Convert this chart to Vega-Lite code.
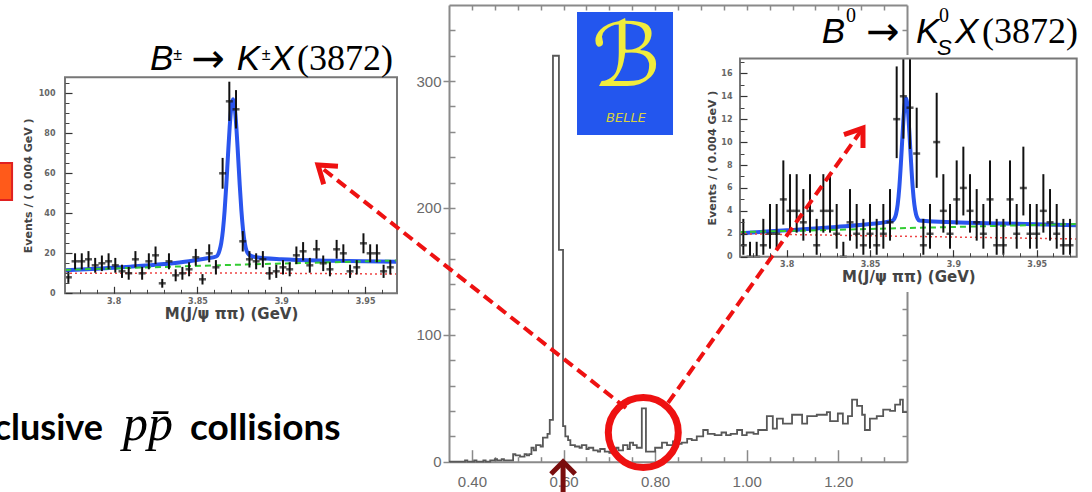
{
  "$schema": "https://vega.github.io/schema/vega-lite/v6.json",
  "width": 1092,
  "height": 492,
  "autosize": "none",
  "padding": 0,
  "background": "white",
  "config": {"view": {"stroke": null}, "axis": {"grid": false}},
  "data": {"values": [{}]},
  "datasets": {
    "hist": [{"m":0.35,"n":0},{"m":0.385,"n":1},{"m":0.39,"n":0},{"m":0.405,"n":1},{"m":0.41,"n":0},{"m":0.425,"n":1},{"m":0.43,"n":0},{"m":0.44,"n":1},{"m":0.45,"n":2},{"m":0.455,"n":1},{"m":0.465,"n":2},{"m":0.47,"n":1},{"m":0.485,"n":1},{"m":0.49,"n":6},{"m":0.495,"n":5},{"m":0.505,"n":4},{"m":0.515,"n":6},{"m":0.52,"n":5},{"m":0.525,"n":6},{"m":0.53,"n":11},{"m":0.535,"n":9},{"m":0.54,"n":13},{"m":0.55,"n":12},{"m":0.555,"n":19},{"m":0.565,"n":22},{"m":0.57,"n":33},{"m":0.577,"n":320},{"m":0.59,"n":167},{"m":0.599,"n":28},{"m":0.604,"n":20},{"m":0.61,"n":17},{"m":0.615,"n":13},{"m":0.625,"n":12},{"m":0.635,"n":11},{"m":0.64,"n":13},{"m":0.65,"n":10},{"m":0.655,"n":11},{"m":0.665,"n":9},{"m":0.675,"n":8},{"m":0.68,"n":10},{"m":0.69,"n":8},{"m":0.7,"n":7},{"m":0.705,"n":9},{"m":0.715,"n":11},{"m":0.72,"n":9},{"m":0.73,"n":13},{"m":0.74,"n":10},{"m":0.745,"n":15},{"m":0.752,"n":13},{"m":0.76,"n":11},{"m":0.771,"n":42},{"m":0.78,"n":8},{"m":0.8,"n":11},{"m":0.815,"n":15},{"m":0.826,"n":13},{"m":0.839,"n":16},{"m":0.848,"n":14},{"m":0.858,"n":15},{"m":0.87,"n":18},{"m":0.88,"n":17},{"m":0.891,"n":20},{"m":0.905,"n":25},{"m":0.915,"n":22},{"m":0.93,"n":21},{"m":0.945,"n":23},{"m":0.955,"n":21},{"m":0.965,"n":22},{"m":0.979,"n":25},{"m":0.99,"n":21},{"m":1.0,"n":23},{"m":1.015,"n":22},{"m":1.025,"n":25},{"m":1.044,"n":36},{"m":1.057,"n":26},{"m":1.066,"n":34},{"m":1.079,"n":30},{"m":1.099,"n":37},{"m":1.121,"n":30},{"m":1.132,"n":36},{"m":1.153,"n":37},{"m":1.175,"n":39},{"m":1.182,"n":32},{"m":1.199,"n":38},{"m":1.21,"n":30},{"m":1.221,"n":36},{"m":1.23,"n":49},{"m":1.241,"n":44},{"m":1.252,"n":37},{"m":1.258,"n":25},{"m":1.269,"n":34},{"m":1.284,"n":36},{"m":1.298,"n":41},{"m":1.313,"n":40},{"m":1.324,"n":45},{"m":1.335,"n":49},{"m":1.341,"n":39},{"m":1.35,"n":39}],
    "arrowL": [{"k":0,"x":0.7365,"y":42.3},{"k":1,"x":0.064,"y":233.9}],
    "headL": [{"k":0,"x":0.0764,"y":218.7},{"k":1,"x":0.064,"y":233.9},{"k":2,"x":0.1076,"y":232.9}],
    "arrowR": [{"k":0,"x":0.8282,"y":46.3},{"k":1,"x":1.2539,"y":263.0}],
    "headR": [{"k":0,"x":1.2124,"y":257.8},{"k":1,"x":1.2539,"y":263.0},{"k":2,"x":1.2539,"y":247.3}],
    "pin": [{"k":0,"x":0.5727,"y":-9.7},{"k":1,"x":0.5991,"y":0},{"k":2,"x":0.6255,"y":-9.7}],
    "kp": [{"mass":3.773,"n":8,"lo":5.2,"hi":10.8},{"mass":3.777,"n":16,"lo":12,"hi":20},{"mass":3.781,"n":16,"lo":12,"hi":20},{"mass":3.785,"n":17,"lo":12.9,"hi":21.1},{"mass":3.789,"n":14,"lo":10.3,"hi":17.7},{"mass":3.793,"n":15,"lo":11.1,"hi":18.9},{"mass":3.797,"n":16,"lo":12,"hi":20},{"mass":3.801,"n":14,"lo":10.3,"hi":17.7},{"mass":3.805,"n":11,"lo":7.7,"hi":14.3},{"mass":3.809,"n":10,"lo":6.8,"hi":13.2},{"mass":3.813,"n":17,"lo":12.9,"hi":21.1},{"mass":3.817,"n":10,"lo":6.8,"hi":13.2},{"mass":3.821,"n":16,"lo":12,"hi":20},{"mass":3.825,"n":19,"lo":14.6,"hi":23.4},{"mass":3.829,"n":5,"lo":2.8,"hi":7.2},{"mass":3.833,"n":16,"lo":12,"hi":20},{"mass":3.837,"n":9,"lo":6,"hi":12},{"mass":3.841,"n":10,"lo":6.8,"hi":13.2},{"mass":3.845,"n":12,"lo":8.5,"hi":15.5},{"mass":3.849,"n":18,"lo":13.8,"hi":22.2},{"mass":3.853,"n":7,"lo":4.4,"hi":9.6},{"mass":3.857,"n":20,"lo":15.5,"hi":24.5},{"mass":3.861,"n":13,"lo":9.4,"hi":16.6},{"mass":3.865,"n":60,"lo":52.3,"hi":67.7},{"mass":3.869,"n":96,"lo":86.2,"hi":105.8},{"mass":3.873,"n":92,"lo":82.4,"hi":101.6},{"mass":3.877,"n":26,"lo":20.9,"hi":31.1},{"mass":3.881,"n":17,"lo":12.9,"hi":21.1},{"mass":3.885,"n":16,"lo":12,"hi":20},{"mass":3.889,"n":17,"lo":12.9,"hi":21.1},{"mass":3.893,"n":10,"lo":6.8,"hi":13.2},{"mass":3.897,"n":11,"lo":7.7,"hi":14.3},{"mass":3.901,"n":13,"lo":9.4,"hi":16.6},{"mass":3.905,"n":12,"lo":8.5,"hi":15.5},{"mass":3.909,"n":19,"lo":14.6,"hi":23.4},{"mass":3.913,"n":21,"lo":16.4,"hi":25.6},{"mass":3.917,"n":14,"lo":10.3,"hi":17.7},{"mass":3.921,"n":22,"lo":17.3,"hi":26.7},{"mass":3.925,"n":15,"lo":11.1,"hi":18.9},{"mass":3.929,"n":12,"lo":8.5,"hi":15.5},{"mass":3.933,"n":22,"lo":17.3,"hi":26.7},{"mass":3.937,"n":20,"lo":15.5,"hi":24.5},{"mass":3.941,"n":11,"lo":7.7,"hi":14.3},{"mass":3.945,"n":13,"lo":9.4,"hi":16.6},{"mass":3.949,"n":25,"lo":20,"hi":30},{"mass":3.953,"n":20,"lo":15.5,"hi":24.5},{"mass":3.957,"n":20,"lo":15.5,"hi":24.5},{"mass":3.961,"n":11,"lo":7.7,"hi":14.3},{"mass":3.965,"n":13,"lo":9.4,"hi":16.6}],
    "kpFit": [{"mass":3.771,"n":11.5},{"mass":3.79,"n":12.3},{"mass":3.81,"n":13.3},{"mass":3.83,"n":14.6},{"mass":3.845,"n":16},{"mass":3.855,"n":17.4},{"mass":3.8612,"n":18.4},{"mass":3.8632,"n":21.5},{"mass":3.8642,"n":25.2},{"mass":3.8652,"n":31.6},{"mass":3.8662,"n":41.3},{"mass":3.8672,"n":54.2},{"mass":3.8682,"n":69},{"mass":3.8692,"n":83},{"mass":3.8702,"n":93.2},{"mass":3.8712,"n":97},{"mass":3.8722,"n":93.2},{"mass":3.8732,"n":83},{"mass":3.8742,"n":69},{"mass":3.8752,"n":54.2},{"mass":3.8762,"n":41.3},{"mass":3.8772,"n":31.6},{"mass":3.8782,"n":25.2},{"mass":3.8792,"n":21.5},{"mass":3.8812,"n":19},{"mass":3.885,"n":18},{"mass":3.9,"n":17},{"mass":3.93,"n":16.3},{"mass":3.969,"n":15.8}],
    "kpBkg": [{"mass":3.771,"n":11.7},{"mass":3.87,"n":14.2},{"mass":3.969,"n":16.4}],
    "kpComb": [{"mass":3.771,"n":10.0},{"mass":3.87,"n":10.2},{"mass":3.969,"n":9.6}],
    "k0": [{"mass":3.774,"n":1,"lo":0.17,"hi":3.3},{"mass":3.778,"n":0,"lo":0,"hi":1.3},{"mass":3.782,"n":0,"lo":0,"hi":1.3},{"mass":3.786,"n":1,"lo":0.17,"hi":3.3},{"mass":3.79,"n":2,"lo":0.7,"hi":4.6},{"mass":3.794,"n":2,"lo":0.7,"hi":4.6},{"mass":3.798,"n":5,"lo":2.8,"hi":8.4},{"mass":3.802,"n":4,"lo":2.1,"hi":7.2},{"mass":3.806,"n":4,"lo":2.1,"hi":7.2},{"mass":3.81,"n":3,"lo":1.4,"hi":5.9},{"mass":3.814,"n":4,"lo":2.1,"hi":7.2},{"mass":3.818,"n":1,"lo":0.17,"hi":3.3},{"mass":3.822,"n":4,"lo":2.1,"hi":7.2},{"mass":3.826,"n":4,"lo":2.1,"hi":7.2},{"mass":3.83,"n":2,"lo":0.7,"hi":4.6},{"mass":3.834,"n":0,"lo":0,"hi":1.3},{"mass":3.838,"n":3,"lo":1.4,"hi":5.9},{"mass":3.842,"n":2,"lo":0.7,"hi":4.6},{"mass":3.846,"n":1,"lo":0.17,"hi":3.3},{"mass":3.85,"n":2,"lo":0.7,"hi":4.6},{"mass":3.854,"n":1,"lo":0.17,"hi":3.3},{"mass":3.858,"n":2,"lo":0.7,"hi":4.6},{"mass":3.862,"n":3,"lo":1.4,"hi":5.9},{"mass":3.866,"n":12,"lo":8.6,"hi":16.6},{"mass":3.87,"n":14,"lo":10.3,"hi":17.3},{"mass":3.874,"n":13,"lo":9.4,"hi":17.3},{"mass":3.878,"n":9,"lo":6.0,"hi":13.0},{"mass":3.882,"n":1,"lo":0.17,"hi":3.3},{"mass":3.886,"n":2,"lo":0.7,"hi":4.6},{"mass":3.89,"n":10,"lo":6.9,"hi":14.3},{"mass":3.894,"n":4,"lo":2.1,"hi":7.2},{"mass":3.898,"n":2,"lo":0.7,"hi":4.6},{"mass":3.902,"n":5,"lo":2.8,"hi":8.4},{"mass":3.906,"n":6,"lo":3.6,"hi":9.6},{"mass":3.91,"n":4,"lo":2.1,"hi":7.2},{"mass":3.914,"n":3,"lo":1.4,"hi":5.9},{"mass":3.918,"n":2,"lo":0.7,"hi":4.6},{"mass":3.922,"n":5,"lo":2.8,"hi":8.4},{"mass":3.926,"n":1,"lo":0.17,"hi":3.3},{"mass":3.93,"n":1,"lo":0.17,"hi":3.3},{"mass":3.934,"n":5,"lo":2.8,"hi":8.4},{"mass":3.938,"n":2,"lo":0.7,"hi":4.6},{"mass":3.942,"n":6,"lo":3.6,"hi":9.6},{"mass":3.946,"n":2,"lo":0.7,"hi":4.6},{"mass":3.95,"n":2,"lo":0.7,"hi":4.6},{"mass":3.954,"n":4,"lo":2.1,"hi":7.2},{"mass":3.958,"n":3,"lo":1.4,"hi":5.9},{"mass":3.962,"n":2,"lo":0.7,"hi":4.6},{"mass":3.966,"n":1,"lo":0.17,"hi":3.3},{"mass":3.97,"n":1,"lo":0.17,"hi":3.3}],
    "k0Fit": [{"mass":3.772,"n":2.05},{"mass":3.8,"n":2.3},{"mass":3.83,"n":2.6},{"mass":3.85,"n":2.85},{"mass":3.8636,"n":3.15},{"mass":3.8646,"n":3.31},{"mass":3.8656,"n":3.7},{"mass":3.8666,"n":4.55},{"mass":3.8676,"n":6.07},{"mass":3.8686,"n":8.31},{"mass":3.8696,"n":10.87},{"mass":3.8706,"n":12.98},{"mass":3.8716,"n":13.8},{"mass":3.8726,"n":12.98},{"mass":3.8736,"n":10.87},{"mass":3.8746,"n":8.31},{"mass":3.8756,"n":6.07},{"mass":3.8766,"n":4.55},{"mass":3.8776,"n":3.7},{"mass":3.8786,"n":3.31},{"mass":3.8796,"n":3.15},{"mass":3.885,"n":3.1},{"mass":3.9,"n":3.0},{"mass":3.93,"n":2.9},{"mass":3.974,"n":2.75}],
    "k0Bkg": [{"mass":3.772,"n":2.15},{"mass":3.974,"n":2.85}],
    "k0Comb": [{"mass":3.772,"n":2.0},{"mass":3.974,"n":1.55}]
  },
  "layer": [
    {
      "layer": [
        {
          "data": {"name": "kpFit"},
          "mark": {"type": "line", "interpolate": "monotone", "color": "#2a55ee", "strokeWidth": 4},
          "encoding": {
            "x": {"field": "mass", "type": "quantitative", "scale": {"domain": [3.771, 3.969], "range": [65, 397], "nice": false, "zero": false}, "axis": null},
            "y": {"field": "n", "type": "quantitative", "scale": {"domain": [0, 108], "range": [293.3, 77.3], "nice": false, "zero": false}, "axis": null}
          }
        },
        {
          "data": {"name": "kpComb"},
          "mark": {"type": "line", "color": "#ee4444", "strokeWidth": 1.5, "strokeDash": [2, 3]},
          "encoding": {
            "x": {"field": "mass", "type": "quantitative", "scale": {"domain": [3.771, 3.969], "range": [65, 397], "nice": false, "zero": false},
                  "axis": {"orient": "bottom", "offset": -198.7, "values": [3.78,3.79,3.81,3.82,3.83,3.84,3.86,3.87,3.88,3.89,3.91,3.92,3.93,3.94,3.96], "tickSize": -4, "labels": false, "domain": false, "tickColor": "#444", "title": null, "zindex": 1}},
            "y": {"field": "n", "type": "quantitative", "scale": {"domain": [0, 108], "range": [293.3, 77.3], "nice": false, "zero": false},
                  "axis": {"orient": "left", "offset": -65, "values": [5,10,15,25,30,35,45,50,55,65,70,75,85,90,95,105], "tickSize": -4, "labels": false, "domain": false, "tickColor": "#444", "title": null, "zindex": 1}}
          }
        },
        {
          "data": {"name": "kpBkg"},
          "mark": {"type": "line", "color": "#33cc33", "strokeWidth": 2, "strokeDash": [6, 4]},
          "encoding": {
            "x": {"field": "mass", "type": "quantitative", "scale": {"domain": [3.771, 3.969], "range": [65, 397], "nice": false, "zero": false}, "axis": null},
            "y": {"field": "n", "type": "quantitative", "scale": {"domain": [0, 108], "range": [293.3, 77.3], "nice": false, "zero": false}, "axis": null}
          }
        },
        {
          "data": {"name": "kp"},
          "mark": {"type": "rule", "color": "#111", "strokeWidth": 2},
          "encoding": {
            "x": {"field": "mass", "type": "quantitative", "scale": {"domain": [3.771, 3.969], "range": [65, 397], "nice": false, "zero": false},
                  "axis": {"orient": "bottom", "offset": -198.7, "values": [3.8, 3.85, 3.9, 3.95], "format": ".2~f", "tickSize": -7, "labelPadding": 11, "labelFont": "DejaVu Sans", "labelFontSize": 8, "labelFontWeight": "bold", "labelColor": "#666", "labelFlush": false, "labelOverlap": false, "tickColor": "#333", "tickWidth": 1.2, "domain": false, "title": "M(J/ψ ππ) (GeV)", "titleFont": "DejaVu Sans", "titleFontSize": 15, "titleFontWeight": "bold", "titleColor": "#444", "titlePadding": 1, "zindex": 1}},
            "y": {"field": "lo", "type": "quantitative", "scale": {"domain": [0, 108], "range": [293.3, 77.3], "nice": false, "zero": false},
                  "axis": {"orient": "left", "offset": -65, "values": [0, 20, 40, 60, 80, 100], "tickSize": -7, "labelPadding": 17, "labelFont": "DejaVu Sans", "labelFontSize": 8, "labelFontWeight": "bold", "labelColor": "#666", "labelFlush": false, "labelOverlap": false, "tickColor": "#333", "tickWidth": 1.2, "domain": false, "title": "Events / ( 0.004 GeV )", "titleFont": "DejaVu Sans", "titleFontSize": 11, "titleFontWeight": "bold", "titleColor": "#444", "titlePadding": 5, "zindex": 1}},
            "y2": {"field": "hi"}
          }
        },
        {
          "data": {"name": "kp"},
          "mark": {"type": "tick", "orient": "horizontal", "size": 7, "thickness": 2.5, "color": "#111"},
          "encoding": {
            "x": {"field": "mass", "type": "quantitative", "scale": {"domain": [3.771, 3.969], "range": [65, 397], "nice": false, "zero": false}, "axis": null},
            "y": {"field": "n", "type": "quantitative", "scale": {"domain": [0, 108], "range": [293.3, 77.3], "nice": false, "zero": false}, "axis": null}
          }
        },
        {
          "mark": {"type": "rect", "filled": false, "color": "#777", "strokeWidth": 2},
          "encoding": {
            "x": {"datum": 3.771, "type": "quantitative", "scale": {"domain": [3.771, 3.969], "range": [65, 397], "nice": false, "zero": false}, "axis": null},
            "x2": {"datum": 3.969},
            "y": {"datum": 0, "type": "quantitative", "scale": {"domain": [0, 108], "range": [293.3, 77.3], "nice": false, "zero": false}, "axis": null},
            "y2": {"datum": 108}
          }
        },
        {
          "mark": {"type": "text", "text": "B", "font": "Liberation Sans", "fontStyle": "italic", "fontSize": 35, "align": "left", "baseline": "alphabetic", "color": "#000"},
          "encoding": {
            "x": {"datum": 3.8217, "type": "quantitative", "scale": {"domain": [3.771, 3.969], "range": [65, 397], "nice": false, "zero": false}, "axis": null},
            "y": {"datum": 111.65, "type": "quantitative", "scale": {"domain": [0, 108], "range": [293.3, 77.3], "nice": false, "zero": false}, "axis": null}
          }
        },
        {
          "mark": {"type": "text", "text": "±", "font": "Liberation Sans", "fontSize": 16, "align": "left", "baseline": "alphabetic", "color": "#000"},
          "encoding": {
            "x": {"datum": 3.8356, "type": "quantitative", "scale": {"domain": [3.771, 3.969], "range": [65, 397], "nice": false, "zero": false}, "axis": null},
            "y": {"datum": 116.65, "type": "quantitative", "scale": {"domain": [0, 108], "range": [293.3, 77.3], "nice": false, "zero": false}, "axis": null}
          }
        },
        {
          "mark": {"type": "text", "text": "→", "font": "DejaVu Sans", "fontSize": 40, "align": "left", "baseline": "alphabetic", "color": "#000"},
          "encoding": {
            "x": {"datum": 3.8465, "type": "quantitative", "scale": {"domain": [3.771, 3.969], "range": [65, 397], "nice": false, "zero": false}, "axis": null},
            "y": {"datum": 110.5, "type": "quantitative", "scale": {"domain": [0, 108], "range": [293.3, 77.3], "nice": false, "zero": false}, "axis": null}
          }
        },
        {
          "mark": {"type": "text", "text": "K", "font": "Liberation Sans", "fontStyle": "italic", "fontSize": 35, "align": "left", "baseline": "alphabetic", "color": "#000"},
          "encoding": {
            "x": {"datum": 3.8735, "type": "quantitative", "scale": {"domain": [3.771, 3.969], "range": [65, 397], "nice": false, "zero": false}, "axis": null},
            "y": {"datum": 111.65, "type": "quantitative", "scale": {"domain": [0, 108], "range": [293.3, 77.3], "nice": false, "zero": false}, "axis": null}
          }
        },
        {
          "mark": {"type": "text", "text": "±", "font": "Liberation Sans", "fontSize": 16, "align": "left", "baseline": "alphabetic", "color": "#000"},
          "encoding": {
            "x": {"datum": 3.8884, "type": "quantitative", "scale": {"domain": [3.771, 3.969], "range": [65, 397], "nice": false, "zero": false}, "axis": null},
            "y": {"datum": 116.65, "type": "quantitative", "scale": {"domain": [0, 108], "range": [293.3, 77.3], "nice": false, "zero": false}, "axis": null}
          }
        },
        {
          "mark": {"type": "text", "text": "X", "font": "Liberation Sans", "fontStyle": "italic", "fontSize": 35, "align": "left", "baseline": "alphabetic", "color": "#000"},
          "encoding": {
            "x": {"datum": 3.8932, "type": "quantitative", "scale": {"domain": [3.771, 3.969], "range": [65, 397], "nice": false, "zero": false}, "axis": null},
            "y": {"datum": 111.65, "type": "quantitative", "scale": {"domain": [0, 108], "range": [293.3, 77.3], "nice": false, "zero": false}, "axis": null}
          }
        },
        {
          "mark": {"type": "text", "text": "(3872)", "font": "Liberation Serif", "fontSize": 36, "align": "left", "baseline": "alphabetic", "color": "#000"},
          "encoding": {
            "x": {"datum": 3.9093, "type": "quantitative", "scale": {"domain": [3.771, 3.969], "range": [65, 397], "nice": false, "zero": false}, "axis": null},
            "y": {"datum": 111.65, "type": "quantitative", "scale": {"domain": [0, 108], "range": [293.3, 77.3], "nice": false, "zero": false}, "axis": null}
          }
        }
      ],
      "resolve": {"axis": {"x": "independent", "y": "independent"}}
    },
    {
      "layer": [
        {
          "mark": {"type": "rect", "color": "white"},
          "encoding": {
            "x": {"datum": 3.7462, "type": "quantitative", "scale": {"domain": [3.772, 3.974], "range": [740, 1076.7], "nice": false, "zero": false}, "axis": null},
            "x2": {"datum": 3.9772},
            "y": {"datum": -3.08, "type": "quantitative", "scale": {"domain": [0, 17.3], "range": [256.7, 58.4], "nice": false, "zero": false}, "axis": null},
            "y2": {"datum": 17.6}
          }
        },
        {
          "data": {"name": "k0Fit"},
          "mark": {"type": "line", "interpolate": "monotone", "color": "#2a55ee", "strokeWidth": 4},
          "encoding": {
            "x": {"field": "mass", "type": "quantitative", "scale": {"domain": [3.772, 3.974], "range": [740, 1076.7], "nice": false, "zero": false}, "axis": null},
            "y": {"field": "n", "type": "quantitative", "scale": {"domain": [0, 17.3], "range": [256.7, 58.4], "nice": false, "zero": false}, "axis": null}
          }
        },
        {
          "data": {"name": "k0Comb"},
          "mark": {"type": "line", "color": "#ee4444", "strokeWidth": 1.5, "strokeDash": [2, 3]},
          "encoding": {
            "x": {"field": "mass", "type": "quantitative", "scale": {"domain": [3.772, 3.974], "range": [740, 1076.7], "nice": false, "zero": false},
                  "axis": {"orient": "bottom", "offset": -235.3, "values": [3.78,3.79,3.81,3.82,3.83,3.84,3.86,3.87,3.88,3.89,3.91,3.92,3.93,3.94,3.96,3.97], "tickSize": -4, "labels": false, "domain": false, "tickColor": "#444", "title": null, "zindex": 1}},
            "y": {"field": "n", "type": "quantitative", "scale": {"domain": [0, 17.3], "range": [256.7, 58.4], "nice": false, "zero": false},
                  "axis": {"orient": "left", "offset": -740, "values": [1,3,5,7,9,11,13,15,17], "tickSize": -4, "labels": false, "domain": false, "tickColor": "#444", "title": null, "zindex": 1}}
          }
        },
        {
          "data": {"name": "k0Bkg"},
          "mark": {"type": "line", "color": "#33cc33", "strokeWidth": 2, "strokeDash": [6, 4]},
          "encoding": {
            "x": {"field": "mass", "type": "quantitative", "scale": {"domain": [3.772, 3.974], "range": [740, 1076.7], "nice": false, "zero": false}, "axis": null},
            "y": {"field": "n", "type": "quantitative", "scale": {"domain": [0, 17.3], "range": [256.7, 58.4], "nice": false, "zero": false}, "axis": null}
          }
        },
        {
          "data": {"name": "k0"},
          "mark": {"type": "rule", "color": "#111", "strokeWidth": 2},
          "encoding": {
            "x": {"field": "mass", "type": "quantitative", "scale": {"domain": [3.772, 3.974], "range": [740, 1076.7], "nice": false, "zero": false},
                  "axis": {"orient": "bottom", "offset": -235.3, "values": [3.8, 3.85, 3.9, 3.95], "format": ".2~f", "tickSize": -7, "labelPadding": 11, "labelFont": "DejaVu Sans", "labelFontSize": 8, "labelFontWeight": "bold", "labelColor": "#666", "labelFlush": false, "labelOverlap": false, "tickColor": "#333", "tickWidth": 1.2, "domain": false, "title": "M(J/ψ ππ) (GeV)", "titleFont": "DejaVu Sans", "titleFontSize": 15, "titleFontWeight": "bold", "titleColor": "#444", "titlePadding": 1, "zindex": 1}},
            "y": {"field": "lo", "type": "quantitative", "scale": {"domain": [0, 17.3], "range": [256.7, 58.4], "nice": false, "zero": false},
                  "axis": {"orient": "left", "offset": -740, "values": [0, 2, 4, 6, 8, 10, 12, 14, 16], "tickSize": -7, "labelPadding": 15, "labelFont": "DejaVu Sans", "labelFontSize": 8, "labelFontWeight": "bold", "labelColor": "#666", "labelFlush": false, "labelOverlap": false, "tickColor": "#333", "tickWidth": 1.2, "domain": false, "title": "Events / ( 0.004 GeV )", "titleFont": "DejaVu Sans", "titleFontSize": 11, "titleFontWeight": "bold", "titleColor": "#444", "titlePadding": 3, "zindex": 1}},
            "y2": {"field": "hi"}
          }
        },
        {
          "data": {"name": "k0"},
          "mark": {"type": "tick", "orient": "horizontal", "size": 7, "thickness": 2.5, "color": "#111"},
          "encoding": {
            "x": {"field": "mass", "type": "quantitative", "scale": {"domain": [3.772, 3.974], "range": [740, 1076.7], "nice": false, "zero": false}, "axis": null},
            "y": {"field": "n", "type": "quantitative", "scale": {"domain": [0, 17.3], "range": [256.7, 58.4], "nice": false, "zero": false}, "axis": null}
          }
        },
        {
          "mark": {"type": "rect", "filled": false, "color": "#777", "strokeWidth": 2},
          "encoding": {
            "x": {"datum": 3.772, "type": "quantitative", "scale": {"domain": [3.772, 3.974], "range": [740, 1076.7], "nice": false, "zero": false}, "axis": null},
            "x2": {"datum": 3.974},
            "y": {"datum": 0, "type": "quantitative", "scale": {"domain": [0, 17.3], "range": [256.7, 58.4], "nice": false, "zero": false}, "axis": null},
            "y2": {"datum": 17.3}
          }
        },
        {
          "mark": {"type": "text", "text": "B", "font": "Liberation Sans", "fontStyle": "italic", "fontSize": 35, "align": "left", "baseline": "alphabetic", "color": "#000"},
          "encoding": {
            "x": {"datum": 3.821, "type": "quantitative", "scale": {"domain": [3.772, 3.974], "range": [740, 1076.7], "nice": false, "zero": false}, "axis": null},
            "y": {"datum": 18.62, "type": "quantitative", "scale": {"domain": [0, 17.3], "range": [256.7, 58.4], "nice": false, "zero": false}, "axis": null}
          }
        },
        {
          "mark": {"type": "text", "text": "0", "font": "Liberation Serif", "fontSize": 20, "align": "left", "baseline": "alphabetic", "color": "#000"},
          "encoding": {
            "x": {"datum": 3.8356, "type": "quantitative", "scale": {"domain": [3.772, 3.974], "range": [740, 1076.7], "nice": false, "zero": false}, "axis": null},
            "y": {"datum": 20.5, "type": "quantitative", "scale": {"domain": [0, 17.3], "range": [256.7, 58.4], "nice": false, "zero": false}, "axis": null}
          }
        },
        {
          "mark": {"type": "text", "text": "→", "font": "DejaVu Sans", "fontSize": 40, "align": "left", "baseline": "alphabetic", "color": "#000"},
          "encoding": {
            "x": {"datum": 3.8478, "type": "quantitative", "scale": {"domain": [3.772, 3.974], "range": [740, 1076.7], "nice": false, "zero": false}, "axis": null},
            "y": {"datum": 18.5, "type": "quantitative", "scale": {"domain": [0, 17.3], "range": [256.7, 58.4], "nice": false, "zero": false}, "axis": null}
          }
        },
        {
          "mark": {"type": "text", "text": "K", "font": "Liberation Sans", "fontStyle": "italic", "fontSize": 35, "align": "left", "baseline": "alphabetic", "color": "#000"},
          "encoding": {
            "x": {"datum": 3.8776, "type": "quantitative", "scale": {"domain": [3.772, 3.974], "range": [740, 1076.7], "nice": false, "zero": false}, "axis": null},
            "y": {"datum": 18.62, "type": "quantitative", "scale": {"domain": [0, 17.3], "range": [256.7, 58.4], "nice": false, "zero": false}, "axis": null}
          }
        },
        {
          "mark": {"type": "text", "text": "0", "font": "Liberation Serif", "fontSize": 20, "align": "left", "baseline": "alphabetic", "color": "#000"},
          "encoding": {
            "x": {"datum": 3.8914, "type": "quantitative", "scale": {"domain": [3.772, 3.974], "range": [740, 1076.7], "nice": false, "zero": false}, "axis": null},
            "y": {"datum": 20.5, "type": "quantitative", "scale": {"domain": [0, 17.3], "range": [256.7, 58.4], "nice": false, "zero": false}, "axis": null}
          }
        },
        {
          "mark": {"type": "text", "text": "S", "font": "Liberation Sans", "fontStyle": "italic", "fontSize": 22, "align": "left", "baseline": "alphabetic", "color": "#000"},
          "encoding": {
            "x": {"datum": 3.8902, "type": "quantitative", "scale": {"domain": [3.772, 3.974], "range": [740, 1076.7], "nice": false, "zero": false}, "axis": null},
            "y": {"datum": 17.6, "type": "quantitative", "scale": {"domain": [0, 17.3], "range": [256.7, 58.4], "nice": false, "zero": false}, "axis": null}
          }
        },
        {
          "mark": {"type": "text", "text": "X", "font": "Liberation Sans", "fontStyle": "italic", "fontSize": 35, "align": "left", "baseline": "alphabetic", "color": "#000"},
          "encoding": {
            "x": {"datum": 3.901, "type": "quantitative", "scale": {"domain": [3.772, 3.974], "range": [740, 1076.7], "nice": false, "zero": false}, "axis": null},
            "y": {"datum": 18.62, "type": "quantitative", "scale": {"domain": [0, 17.3], "range": [256.7, 58.4], "nice": false, "zero": false}, "axis": null}
          }
        },
        {
          "mark": {"type": "text", "text": "(3872)", "font": "Liberation Serif", "fontSize": 36, "align": "left", "baseline": "alphabetic", "color": "#000"},
          "encoding": {
            "x": {"datum": 3.9172, "type": "quantitative", "scale": {"domain": [3.772, 3.974], "range": [740, 1076.7], "nice": false, "zero": false}, "axis": null},
            "y": {"datum": 18.62, "type": "quantitative", "scale": {"domain": [0, 17.3], "range": [256.7, 58.4], "nice": false, "zero": false}, "axis": null}
          }
        }
      ],
      "resolve": {"axis": {"x": "independent", "y": "independent"}}
    },
    {
      "layer": [
        {
          "data": {"name": "hist"},
          "mark": {"type": "line", "interpolate": "step-after", "color": "#585858", "strokeWidth": 1.8},
          "encoding": {
            "x": {"field": "m", "type": "quantitative", "scale": {"domain": [0.35, 1.35], "range": [449, 907], "nice": false, "zero": false},
                  "axis": {"orient": "bottom", "offset": -30.3, "values": [0.4, 0.6, 0.8, 1.0, 1.2], "format": ".2f", "tickSize": -12, "labelPadding": 25, "labelFont": "Liberation Sans", "labelFontSize": 15, "labelColor": "#6a6a6a", "labelFlush": false, "labelOverlap": false, "domainColor": "#8a8a8a", "domainWidth": 2, "tickColor": "#8a8a8a", "tickWidth": 1.5, "title": null}},
            "y": {"field": "n", "type": "quantitative", "scale": {"domain": [0, 360], "range": [461.7, 5], "nice": false, "zero": false},
                  "axis": {"orient": "left", "offset": -449, "values": [0, 100, 200, 300], "tickSize": 6, "labelPadding": 2, "labelFont": "Liberation Sans", "labelFontSize": 15, "labelColor": "#6a6a6a", "labelFlush": false, "labelOverlap": false, "domainColor": "#8a8a8a", "domainWidth": 2, "tickColor": "#8a8a8a", "tickWidth": 1.5, "title": null}}
          }
        },
        {
          "data": {"name": "arrowL"},
          "mark": {"type": "line", "color": "#ee1111", "strokeWidth": 4, "strokeDash": [11, 6]},
          "encoding": {
            "x": {"field": "x", "type": "quantitative", "scale": {"domain": [0.35, 1.35], "range": [449, 907], "nice": false, "zero": false},
                  "axis": {"orient": "bottom", "offset": -30.3, "values": [0.45,0.5,0.55,0.65,0.7,0.75,0.85,0.9,0.95,1.05,1.1,1.15,1.25,1.3], "tickSize": -5, "labels": false, "domain": false, "tickColor": "#8a8a8a", "tickWidth": 1.5, "title": null}},
            "y": {"field": "y", "type": "quantitative", "scale": {"domain": [0, 360], "range": [461.7, 5], "nice": false, "zero": false},
                  "axis": {"orient": "left", "offset": -449, "values": [20,40,60,80,100,120,140,160,180,200,220,240,260,280,300,320,340], "tickSize": -6, "labels": false, "domain": false, "tickColor": "#8a8a8a", "tickWidth": 1.5, "title": null}},
            "order": {"field": "k"}
          }
        },
        {
          "data": {"name": "arrowR"},
          "mark": {"type": "line", "color": "#ee1111", "strokeWidth": 4, "strokeDash": [11, 6]},
          "encoding": {
            "x": {"field": "x", "type": "quantitative", "scale": {"domain": [0.35, 1.35], "range": [449, 907], "nice": false, "zero": false},
                  "axis": {"orient": "top", "offset": -5, "values": [0.4,0.45,0.5,0.55,0.6,0.65,0.7,0.75,0.8,0.85,0.9,0.95,1.0,1.05,1.1,1.15,1.2,1.25,1.3], "tickSize": -5, "labels": false, "domain": true, "domainColor": "#8a8a8a", "domainWidth": 2, "tickColor": "#8a8a8a", "tickWidth": 1.5, "title": null}},
            "y": {"field": "y", "type": "quantitative", "scale": {"domain": [0, 360], "range": [461.7, 5], "nice": false, "zero": false},
                  "axis": {"orient": "right", "offset": -185, "values": [20,40,60,80,100,120,140,160,180,200,220,240,260,280,300,320,340], "tickSize": -5, "labels": false, "domain": true, "domainColor": "#8a8a8a", "domainWidth": 2, "tickColor": "#8a8a8a", "tickWidth": 1.5, "title": null}},
            "order": {"field": "k"}
          }
        },
        {
          "data": {"name": "headL"},
          "mark": {"type": "line", "color": "#ee1111", "strokeWidth": 5, "strokeJoin": "miter"},
          "encoding": {
            "x": {"field": "x", "type": "quantitative", "scale": {"domain": [0.35, 1.35], "range": [449, 907], "nice": false, "zero": false}, "axis": null},
            "y": {"field": "y", "type": "quantitative", "scale": {"domain": [0, 360], "range": [461.7, 5], "nice": false, "zero": false}, "axis": null},
            "order": {"field": "k"}
          }
        },
        {
          "data": {"name": "headR"},
          "mark": {"type": "line", "color": "#ee1111", "strokeWidth": 5, "strokeJoin": "miter"},
          "encoding": {
            "x": {"field": "x", "type": "quantitative", "scale": {"domain": [0.35, 1.35], "range": [449, 907], "nice": false, "zero": false}, "axis": null},
            "y": {"field": "y", "type": "quantitative", "scale": {"domain": [0, 360], "range": [461.7, 5], "nice": false, "zero": false}, "axis": null},
            "order": {"field": "k"}
          }
        },
        {
          "mark": {"type": "point", "shape": "circle", "size": 4900, "filled": false, "stroke": "#ee1111", "strokeWidth": 7, "opacity": 1},
          "encoding": {
            "x": {"datum": 0.7742, "type": "quantitative", "scale": {"domain": [0.35, 1.35], "range": [449, 907], "nice": false, "zero": false}, "axis": null},
            "y": {"datum": 23, "type": "quantitative", "scale": {"domain": [0, 360], "range": [461.7, 5], "nice": false, "zero": false}, "axis": null}
          }
        },
        {
          "mark": {"type": "rule", "color": "#7a0e0e", "strokeWidth": 5},
          "encoding": {
            "x": {"datum": 0.5991, "type": "quantitative", "scale": {"domain": [0.35, 1.35], "range": [449, 907], "nice": false, "zero": false}, "axis": null},
            "y": {"datum": -1, "type": "quantitative", "scale": {"domain": [0, 360], "range": [461.7, 5], "nice": false, "zero": false}, "axis": null},
            "y2": {"datum": -26}
          }
        },
        {
          "data": {"name": "pin"},
          "mark": {"type": "line", "color": "#7a0e0e", "strokeWidth": 5, "strokeJoin": "miter"},
          "encoding": {
            "x": {"field": "x", "type": "quantitative", "scale": {"domain": [0.35, 1.35], "range": [449, 907], "nice": false, "zero": false}, "axis": null},
            "y": {"field": "y", "type": "quantitative", "scale": {"domain": [0, 360], "range": [461.7, 5], "nice": false, "zero": false}, "axis": null},
            "order": {"field": "k"}
          }
        },
        {
          "mark": {"type": "rect", "color": "#2356ee"},
          "encoding": {
            "x": {"datum": 0.6295, "type": "quantitative", "scale": {"domain": [0.35, 1.35], "range": [449, 907], "nice": false, "zero": false}, "axis": null},
            "x2": {"datum": 0.8391},
            "y": {"datum": 354.5, "type": "quantitative", "scale": {"domain": [0, 360], "range": [461.7, 5], "nice": false, "zero": false}, "axis": null},
            "y2": {"datum": 257.5}
          }
        },
        {
          "mark": {"type": "text", "text": "ℬ", "font": "DejaVu Sans", "fontSize": 88, "align": "center", "baseline": "middle", "color": "#f0ec3c"},
          "encoding": {
            "x": {"datum": 0.7365, "type": "quantitative", "scale": {"domain": [0.35, 1.35], "range": [449, 907], "nice": false, "zero": false}, "axis": null},
            "y": {"datum": 317, "type": "quantitative", "scale": {"domain": [0, 360], "range": [461.7, 5], "nice": false, "zero": false}, "axis": null}
          }
        },
        {
          "mark": {"type": "text", "text": "BELLE", "font": "DejaVu Sans", "fontStyle": "italic", "fontSize": 13, "align": "center", "baseline": "middle", "color": "#d8d040"},
          "encoding": {
            "x": {"datum": 0.7365, "type": "quantitative", "scale": {"domain": [0.35, 1.35], "range": [449, 907], "nice": false, "zero": false}, "axis": null},
            "y": {"datum": 271, "type": "quantitative", "scale": {"domain": [0, 360], "range": [461.7, 5], "nice": false, "zero": false}, "axis": null}
          }
        },
        {
          "mark": {"type": "rect", "color": "#ff5a1a", "stroke": "#e02020", "strokeWidth": 2},
          "encoding": {
            "x": {"datum": -0.64, "type": "quantitative", "scale": {"domain": [0.35, 1.35], "range": [449, 907], "nice": false, "zero": false}, "axis": null},
            "x2": {"datum": -0.604},
            "y": {"datum": 206.3, "type": "quantitative", "scale": {"domain": [0, 360], "range": [461.7, 5], "nice": false, "zero": false}, "axis": null},
            "y2": {"datum": 235.5}
          }
        },
        {
          "mark": {"type": "text", "text": "Inclusive", "font": "Lato", "fontWeight": "bold", "fontSize": 36, "align": "right", "baseline": "alphabetic", "color": "#000"},
          "encoding": {
            "x": {"datum": -0.4055, "type": "quantitative", "scale": {"domain": [0.35, 1.35], "range": [449, 907], "nice": false, "zero": false}, "axis": null},
            "y": {"datum": 17.1, "type": "quantitative", "scale": {"domain": [0, 360], "range": [461.7, 5], "nice": false, "zero": false}, "axis": null}
          }
        },
        {
          "mark": {"type": "text", "text": "pp̄", "font": "Liberation Serif", "fontStyle": "italic", "fontSize": 50, "align": "left", "baseline": "alphabetic", "color": "#000"},
          "encoding": {
            "x": {"datum": -0.3618, "type": "quantitative", "scale": {"domain": [0.35, 1.35], "range": [449, 907], "nice": false, "zero": false}, "axis": null},
            "y": {"datum": 17.1, "type": "quantitative", "scale": {"domain": [0, 360], "range": [461.7, 5], "nice": false, "zero": false}, "axis": null}
          }
        },
        {
          "mark": {"type": "text", "text": "collisions", "font": "Lato", "fontWeight": "bold", "fontSize": 37, "align": "left", "baseline": "alphabetic", "color": "#000"},
          "encoding": {
            "x": {"datum": -0.2155, "type": "quantitative", "scale": {"domain": [0.35, 1.35], "range": [449, 907], "nice": false, "zero": false}, "axis": null},
            "y": {"datum": 17.1, "type": "quantitative", "scale": {"domain": [0, 360], "range": [461.7, 5], "nice": false, "zero": false}, "axis": null}
          }
        }
      ],
      "resolve": {"axis": {"x": "independent", "y": "independent"}}
    }
  ],
  "resolve": {"scale": {"x": "independent", "y": "independent"}, "axis": {"x": "independent", "y": "independent"}}
}
